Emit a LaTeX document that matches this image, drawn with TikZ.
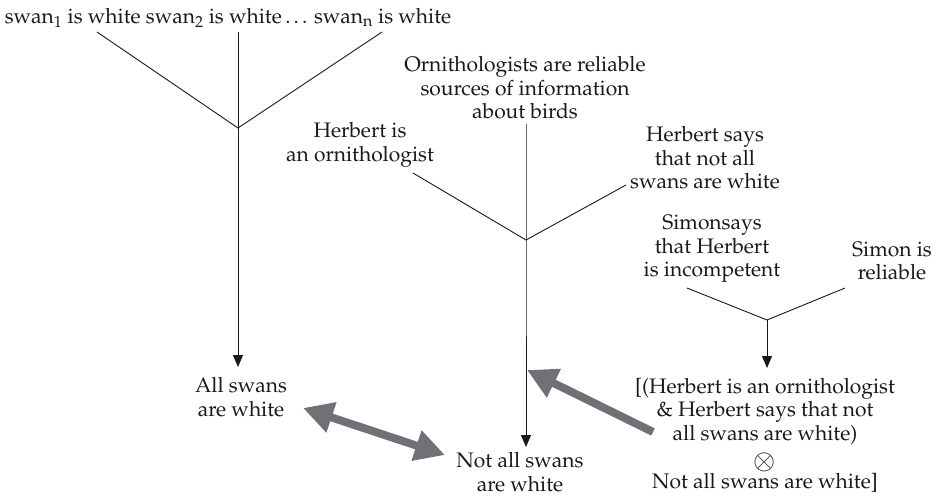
\documentclass[tikz,border=0pt]{standalone}
\usepackage[T1]{fontenc}
\usepackage{mathpazo}
\usetikzlibrary{arrows.meta}
\definecolor{heavygray}{RGB}{112,113,118}
\definecolor{ink}{RGB}{25,25,27}
\tikzset{
  txt/.style={align=center, inner sep=0pt, text=ink, font=\fontsize{21}{23.5}\selectfont},
  thin/.style={draw=ink, line width=0.9pt},
  infer/.style={thin, -{Triangle[length=12pt,width=10pt]}},
  clash/.style={draw=heavygray, line width=8pt, {Triangle[length=30pt,width=30pt]}-{Triangle[length=30pt,width=30pt]}},
  attack/.style={draw=heavygray, line width=8pt, -{Triangle[length=30pt,width=30pt]}},
}
\begin{document}
\begin{tikzpicture}[x=1pt,y=-1pt]
\useasboundingbox (0,0) rectangle (939,496);

% texts
\node[txt] (swans) at (228,18) {swan$_1$ is white swan$_2$ is white\,\ldots\,swan$_\mathrm{n}$ is white};
\node[txt] (allw) at (241,397) {All swans\\are white};
\node[txt] (orni) at (525,88) {Ornithologists are reliable\\sources of information\\about birds};
\node[txt] (herb) at (360,145) {Herbert is\\an ornithologist};
\node[txt] (hsays) at (705,158) {Herbert says\\that not all\\swans are white};
\node[txt] (simsays) at (712,249) {Simonsays\\that Herbert\\is incompetent};
\node[txt] (simrel) at (892,261) {Simon is\\reliable};
\node[txt] (notall) at (520,472) {Not all swans\\are white};
\node[txt] (undercut) at (765,435) {[(Herbert is an ornithologist\\\& Herbert says that not\\all swans are white)\\[6pt]\scalebox{1.3}{$\otimes$}\\[-5pt]Not all swans are white]};

% first argument: induction over swans
\coordinate (s1) at (97,32);
\coordinate (s2) at (238,32);
\coordinate (s3) at (382,32);
\coordinate (j1) at (238,128);
\draw[thin] (s1) -- (j1) -- (s3);
\draw[thin] (s2) -- (j1);
\draw[infer] (j1) -- (238,367);

% second argument: testimony
\coordinate (o1) at (526,124);
\coordinate (h1) at (413,173);
\coordinate (h2) at (626,185);
\coordinate (j2) at (526,240);
\draw[thin] (h1) -- (j2) -- (h2);
\draw[infer] (o1) -- (j2) -- (526,447);

% third argument: undercutter
\coordinate (m1) at (687,288);
\coordinate (m2) at (845,288);
\coordinate (j3) at (767,320);
\draw[thin] (m1) -- (j3) -- (m2);
\draw[infer] (j3) -- (767,368);

% conflicts
\coordinate (c1) at (303,408);
\coordinate (c2) at (445,455);
\draw[clash] (c1) -- (c2);
\coordinate (u1) at (653,432);
\coordinate (u2) at (527,370);
\draw[attack] (u1) -- (u2);
\end{tikzpicture}
\end{document}
